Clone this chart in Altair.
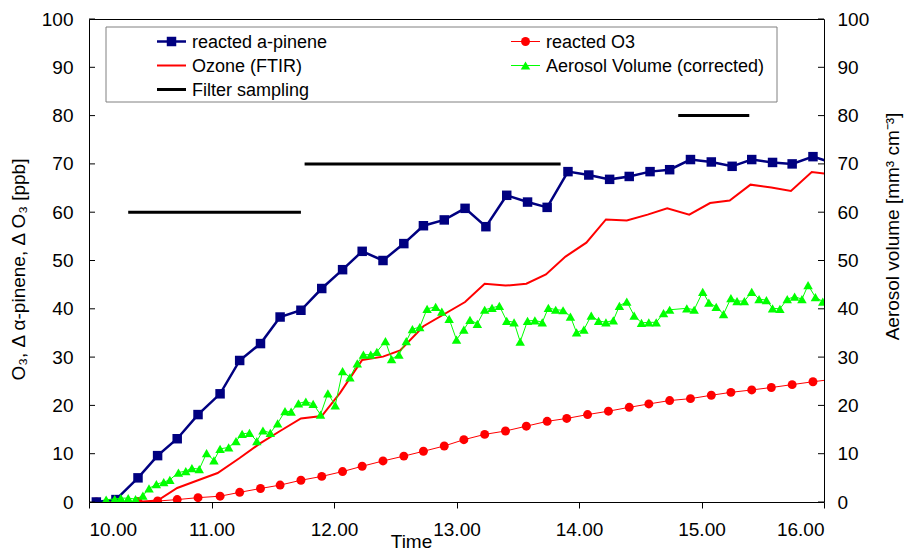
import altair as alt
import pandas as pd

# ---------------- data ----------------
pinene_t = [10.06, 10.22, 10.40, 10.56, 10.72, 10.89, 11.07, 11.23, 11.40, 11.56, 11.73, 11.90,
            12.07, 12.23, 12.40, 12.57, 12.73, 12.90, 13.07, 13.24, 13.41, 13.58, 13.74, 13.91,
            14.08, 14.25, 14.41, 14.58, 14.74, 14.91, 15.08, 15.25, 15.41, 15.58, 15.74, 15.91, 16.07]
pinene_v = [0.0, 0.5, 5.0, 9.6, 13.1, 18.1, 22.4, 29.3, 32.8, 38.3, 39.7, 44.2,
            48.1, 51.9, 50.0, 53.5, 57.2, 58.4, 60.8, 57.0, 63.5, 62.1, 61.0, 68.4,
            67.7, 66.8, 67.4, 68.4, 68.8, 70.9, 70.4, 69.5, 70.9, 70.3, 70.0, 71.5, 70.2]

o3_t = [10.06, 10.23, 10.40, 10.56, 10.72, 10.89, 11.07, 11.23, 11.40, 11.56, 11.73, 11.90,
        12.07, 12.23, 12.40, 12.57, 12.73, 12.90, 13.06, 13.23, 13.40, 13.57, 13.74, 13.90,
        14.07, 14.24, 14.41, 14.57, 14.74, 14.91, 15.08, 15.24, 15.41, 15.57, 15.74, 15.91, 16.07]
o3_v = [0.0, 0.0, 0.1, 0.2, 0.5, 0.9, 1.2, 2.0, 2.8, 3.5, 4.5, 5.3,
        6.3, 7.4, 8.5, 9.5, 10.5, 11.6, 12.9, 14.0, 14.7, 15.7, 16.7, 17.3,
        18.1, 18.8, 19.6, 20.3, 21.0, 21.4, 22.1, 22.7, 23.2, 23.7, 24.3, 24.9, 25.4]

ftir_t = [10.06, 10.39, 10.56, 10.72, 10.89, 11.05, 11.23, 11.40, 11.56, 11.73, 11.90, 12.05,
          12.23, 12.40, 12.54, 12.73, 13.07, 13.23, 13.40, 13.57, 13.73, 13.89, 14.06, 14.22,
          14.39, 14.56, 14.72, 14.90, 15.07, 15.23, 15.40, 15.57, 15.73, 15.90, 16.07]
ftir_v = [0.0, 0.0, 0.3, 2.9, 4.5, 6.0, 9.1, 12.2, 14.7, 17.3, 17.8, 22.6,
          29.4, 30.1, 31.4, 36.4, 41.4, 45.2, 44.8, 45.2, 47.1, 50.8, 53.7, 58.5,
          58.3, 59.5, 60.8, 59.5, 61.9, 62.4, 65.7, 65.1, 64.4, 68.3, 67.8]

aer_t = [10.14, 10.21, 10.26, 10.32, 10.38, 10.44, 10.49, 10.55, 10.61, 10.66, 10.73, 10.79,
         10.84, 10.90, 10.96, 11.02, 11.07, 11.14, 11.20, 11.25, 11.31, 11.37, 11.42, 11.48,
         11.54, 11.60, 11.65, 11.71, 11.77, 11.83, 11.89, 11.95, 12.01, 12.07, 12.13, 12.19,
         12.24, 12.30, 12.35, 12.42, 12.47, 12.53, 12.59, 12.64, 12.70, 12.76, 12.83, 12.88,
         12.94, 13.00, 13.06, 13.11, 13.17, 13.23, 13.29, 13.35, 13.41, 13.47, 13.52, 13.58,
         13.64, 13.70, 13.75, 13.81, 13.87, 13.93, 13.98, 14.04, 14.10, 14.16, 14.22, 14.28,
         14.33, 14.39, 14.45, 14.51, 14.57, 14.63, 14.69, 14.74, 14.88, 14.94, 15.01, 15.06,
         15.12, 15.18, 15.24, 15.29, 15.35, 15.41, 15.47, 15.53, 15.58, 15.64, 15.70, 15.76,
         15.82, 15.87, 15.93, 15.99, 16.05]
aer_v = [0.5, 0.6, 0.8, 0.8, 0.6, 1.3, 2.8, 3.7, 4.1, 4.6, 6.1, 6.4,
         7.0, 6.8, 10.1, 8.6, 11.0, 11.3, 12.6, 14.1, 14.3, 12.6, 14.8, 14.3,
         16.3, 18.8, 18.7, 20.4, 20.8, 20.3, 18.1, 22.5, 20.0, 27.1, 25.8, 28.7,
         30.5, 30.5, 31.1, 33.3, 29.6, 30.5, 33.3, 35.8, 36.2, 40.0, 40.4, 39.4,
         37.9, 33.6, 35.7, 37.7, 36.9, 39.8, 40.2, 40.6, 37.5, 37.2, 33.2, 37.5,
         37.6, 37.2, 40.2, 39.8, 39.7, 38.4, 35.1, 35.7, 38.6, 37.5, 37.2, 37.6,
         40.6, 41.5, 38.6, 37.1, 37.2, 37.2, 39.1, 39.8, 40.1, 39.8, 43.5, 41.3,
         40.4, 38.9, 42.2, 41.6, 41.6, 43.5, 42.0, 41.8, 40.1, 40.0, 42.0, 42.5,
         42.0, 44.9, 42.4, 41.5, 43.0]

filter_start = [10.32, 11.76, 14.81]
filter_end = [11.73, 13.85, 15.39]
filter_level = [60, 70, 80]

x_ticks = [10, 11, 12, 13, 14, 15, 16]
y_ticks = [0, 10, 20, 30, 40, 50, 60, 70, 80, 90, 100]

legend_labels = ["reacted a-pinene", "reacted O3", "Ozone (FTIR)",
                 "Aerosol Volume (corrected)", "Filter sampling"]

# ---------------- styling ----------------
W, H = 735, 483
FONT = "Liberation Sans"
NAVY, RED, GREEN = "#000080", "#FF0000", "#00FF00"

xs = alt.Scale(domain=[10, 16], nice=False, zero=False)
ys = alt.Scale(domain=[0, 100], nice=False, zero=False)

x_axis = alt.Axis(values=x_ticks, format=".2f", title="Time", grid=False, domain=False,
                  tickSize=6, tickColor="black", labelPadding=12, labelFontSize=19,
                  labelColor="black", labelFont=FONT, titleFont=FONT, titleFontSize=19,
                  titleFontWeight="normal", titleColor="black", titleX=322, titleY=45,
                  titleAlign="center", titleBaseline="alphabetic")

left_axis = alt.Axis(values=y_ticks, title="O₃, Δ α-pinene, Δ O₃ [ppb]", grid=False,
                     domain=False, ticks=False, labelPadding=16, labelFontSize=19,
                     labelColor="black", labelFont=FONT, titleFont=FONT, titleFontSize=19,
                     titleFontWeight="normal", titleColor="black", titleAngle=270,
                     titleX=-71, titleY=250, titleAlign="center", titleBaseline="middle")

right_axis = alt.Axis(values=y_ticks, orient="right", title="Aerosol volume [mm³ cm⁻³]",
                      grid=False, domain=False, ticks=False, labelPadding=13,
                      labelFontSize=19, labelColor="black", labelFont=FONT, titleFont=FONT,
                      titleFontSize=19, titleFontWeight="normal", titleColor="black",
                      titleAngle=270, titleX=68, titleY=207, titleAlign="center",
                      titleBaseline="middle")

X_ENC = dict(scale=xs, axis=x_axis)
YL_ENC = dict(scale=ys, axis=left_axis)


def df(t, v):
    return pd.DataFrame({"t": t, "v": v})


# filter sampling bars
filt_df = pd.DataFrame({"t0": filter_start, "t1": filter_end, "v": filter_level})
filt = alt.Chart(filt_df).mark_rule(color="black", strokeWidth=3).encode(
    x=alt.X("t0:Q", **X_ENC), x2="t1:Q",
    y=alt.Y("v:Q", **YL_ENC))


def series(d, color, width, shape=None, size=None):
    base = alt.Chart(d).encode(x=alt.X("t:Q", **X_ENC), y=alt.Y("v:Q", **YL_ENC))
    line = base.mark_line(color=color, strokeWidth=width, clip=True)
    if shape is None:
        return line
    pts = base.mark_point(shape=shape, filled=True, size=size, color=color,
                          opacity=1, clip=True)
    return line + pts


o3_layer = series(df(o3_t, o3_v), RED, 1, "circle", 80)
ftir_layer = series(df(ftir_t, ftir_v), RED, 2)
pinene_layer = series(df(pinene_t, pinene_v), NAVY, 2.5, "square", 90)

# inward y ticks on both sides
tick_df = pd.DataFrame({"v": y_ticks})
lticks = alt.Chart(tick_df).mark_rule(color="black", strokeWidth=1).encode(
    y=alt.Y("v:Q", **YL_ENC), x=alt.value(0), x2=alt.value(6))
rticks = alt.Chart(tick_df).mark_rule(color="black", strokeWidth=1).encode(
    y=alt.Y("v:Q", **YL_ENC), x=alt.value(W - 6), x2=alt.value(W))

# legend (drawn as marks in pixel space)
legend_style = [
    (NAVY, 2.5, "square", 90),
    (RED, 1, "circle", 80),
    (RED, 2, None, None),
    (GREEN, 1, "triangle-up", 90),
    ("black", 3, None, None),
]
one = pd.DataFrame({"a": [0]})
legend_layers = [alt.Chart(one).mark_rect(fill="white", stroke="#808080", strokeWidth=1).encode(
    x=alt.value(17), x2=alt.value(688), y=alt.value(8), y2=alt.value(83))]
col_x = [68, 422]
row_y = [22.5, 46.5, 70.5]
for i, (lab, (col, sw, shp, sz)) in enumerate(zip(legend_labels, legend_style)):
    cx = col_x[i % 2]
    ry = row_y[i // 2]
    legend_layers.append(alt.Chart(one).mark_rule(color=col, strokeWidth=sw).encode(
        x=alt.value(cx), x2=alt.value(cx + 29), y=alt.value(ry)))
    if shp is not None:
        legend_layers.append(alt.Chart(one).mark_point(
            shape=shp, filled=True, size=sz, color=col, opacity=1).encode(
            x=alt.value(cx + 14.5), y=alt.value(ry)))
    legend_layers.append(alt.Chart(pd.DataFrame({"label": [lab]})).mark_text(
        align="left", baseline="middle", fontSize=18, font=FONT, color="black").encode(
        text="label:N", x=alt.value(cx + 35), y=alt.value(ry + 1)))

left = alt.layer(filt, o3_layer, ftir_layer, pinene_layer, lticks, rticks, *legend_layers)

aer_d = df(aer_t, aer_v)
aer_base = alt.Chart(aer_d).encode(x=alt.X("t:Q", **X_ENC),
                                   y=alt.Y("v:Q", scale=ys, axis=right_axis))
aer = aer_base.mark_line(color=GREEN, strokeWidth=1, clip=True) + \
      aer_base.mark_point(shape="triangle-up", filled=True, size=90, color=GREEN,
                          opacity=1, clip=True)

chart = alt.layer(left, aer).resolve_scale(y="independent").properties(
    width=W, height=H,
    padding={"left": 81, "top": 11, "right": 80, "bottom": 50},
    autosize=alt.AutoSizeParams(type="none"),
    background="white",
).configure_view(stroke="black", strokeWidth=1)

chart.save("out.html", embed_options={"renderer": "svg", "actions": False})
